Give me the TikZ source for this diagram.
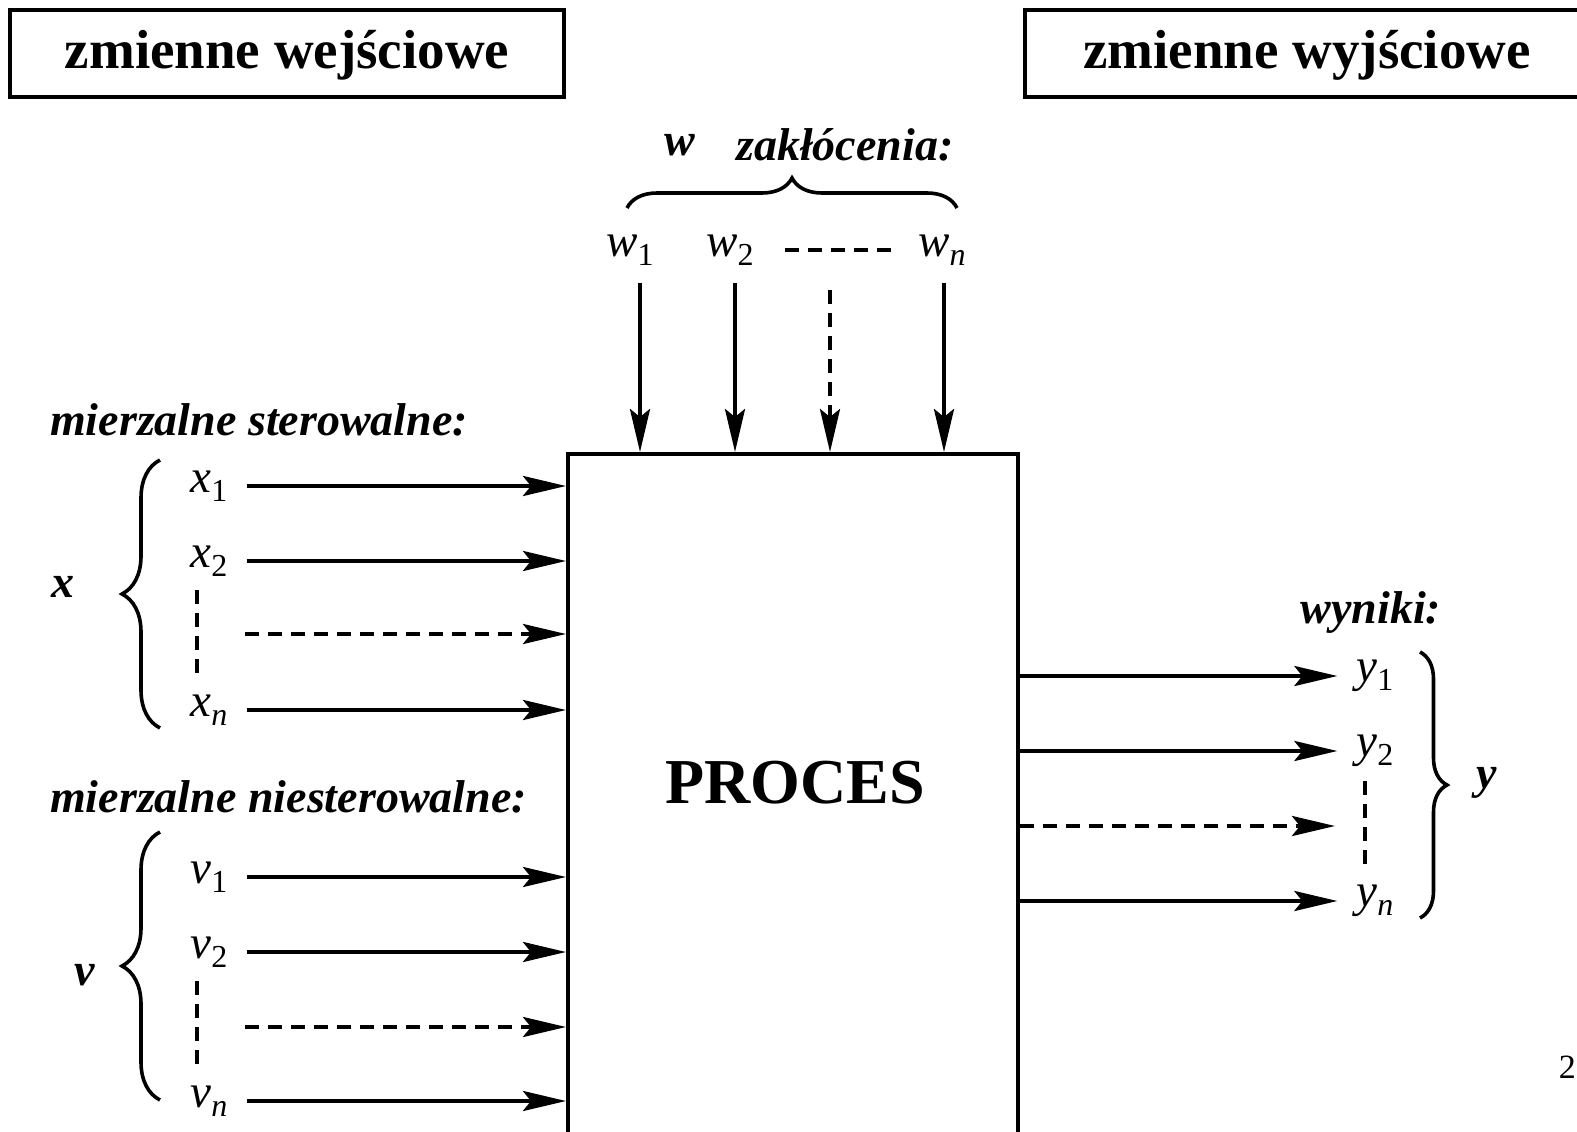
\documentclass[tikz,border=0pt]{standalone}
\usepackage{fontspec}
\setmainfont{Liberation Serif}
\usetikzlibrary{arrows.meta,decorations.pathreplacing}

\newcommand*\sig[2]{\textit{#1}\raisebox{-9pt}{\fontsize{32}{34}\selectfont #2}}

\tikzset{
    titlebox/.style={
        draw,
        line width=3.6pt,
        font=\fontsize{55}{60}\selectfont\bfseries,
        minimum height=87pt,
        text height=30pt,
        text depth=0pt,
        inner sep=0pt
    },
    grouplabel/.style={font=\fontsize{46}{50}\selectfont\bfseries\itshape, inner sep=0pt},
    sig/.style={font=\fontsize{47}{50}\selectfont, inner xsep=19pt, inner ysep=8pt},
    flow/.style={line width=4pt, -{Stealth[length=43pt,width=20pt,inset=8pt]}},
    dashflow/.style={flow, dash pattern=on 14pt off 9pt},
    dots/.style={line width=4pt, dash pattern=on 14pt off 9pt},
    groupbrace/.style={line width=3.6pt, decorate, decoration={brace, amplitude=#1}}
}

\begin{document}
\begin{tikzpicture}[x=1pt,y=-1pt]
    \useasboundingbox (0,0) rectangle (1577,1132);

    % Headers.
    \node[titlebox, minimum width=554pt] (inputs) at (287,53.5) {zmienne wejściowe};
    \node[titlebox, minimum width=564pt] (outputs) at (1307,53.5) {zmienne wyjściowe};

    % The process block (runs off the bottom of the page).
    \node[draw, line width=3.6pt, minimum width=450pt, minimum height=720pt, anchor=north west] (proc) at (566,452) {};
    \node[font=\fontsize{64}{70}\selectfont\bfseries] (proclabel) at (795,783) {PROCES};

    % Disturbances w.
    \node[grouplabel] (wlab) at (680,145) {w};
    \node[grouplabel, anchor=west] (disturb) at (736,145) {zakłócenia:};
    \draw[groupbrace=30pt] (627,208) -- (957,208);
    \node[sig] (w1) at (630,250) {\sig{w}{1}};
    \node[sig] (w2) at (730,250) {\sig{w}{2}};
    \node[sig] (wn) at (942,250) {\sig{w}{\textit{n}}};
    \coordinate (wdots) at (830,290);
    \draw[dots] ([xshift=12pt]w2.east) -- (wn.west);
    \draw[flow] ([xshift=10pt,yshift=-10pt]w1.south) -- ([xshift=10pt]w1.south |- proc.north);
    \draw[flow] ([xshift=5pt,yshift=-10pt]w2.south) -- ([xshift=5pt]w2.south |- proc.north);
    \draw[dashflow] (wdots) -- (wdots |- proc.north);
    \draw[flow] ([xshift=2pt,yshift=-10pt]wn.south) -- ([xshift=2pt]wn.south |- proc.north);

    % Measured, controlled inputs x.
    \node[grouplabel, anchor=west] (ctrl) at (50,420) {mierzalne sterowalne:};
    \node[sig] (x1) at (209,486) {\sig{x}{1}};
    \node[sig] (x2) at (209,561) {\sig{x}{2}};
    \node[sig] (xn) at (209,710) {\sig{x}{\textit{n}}};
    \coordinate (xdots) at (245,634);
    \draw[flow] (x1.east) -- (x1.east -| proc.west);
    \draw[flow] (x2.east) -- (x2.east -| proc.west);
    \draw[dashflow] (xdots) -- (xdots -| proc.west);
    \draw[flow] (xn.east) -- (xn.east -| proc.west);
    \draw[dots] ([xshift=-12pt,yshift=-6pt]x2.south) -- ([xshift=-12pt,yshift=8pt]xn.north);
    \draw[groupbrace=38pt] (160,728) -- (160,460);
    \node[grouplabel] (xlab) at (63,587) {x};

    % Measured, uncontrolled inputs v.
    \node[grouplabel, anchor=west] (unctrl) at (50,797) {mierzalne niesterowalne:};
    \node[sig] (v1) at (209,877) {\sig{v}{1}};
    \node[sig] (v2) at (209,952) {\sig{v}{2}};
    \node[sig] (vn) at (209,1101) {\sig{v}{\textit{n}}};
    \coordinate (vdots) at (245,1027);
    \draw[flow] (v1.east) -- (v1.east -| proc.west);
    \draw[flow] (v2.east) -- (v2.east -| proc.west);
    \draw[dashflow] (vdots) -- (vdots -| proc.west);
    \draw[flow] (vn.east) -- (vn.east -| proc.west);
    \draw[dots] ([xshift=-12pt,yshift=-6pt]v2.south) -- ([xshift=-12pt,yshift=8pt]vn.north);
    \draw[groupbrace=38pt] (160,1100) -- (160,832);
    \node[grouplabel] (vlab) at (85,975) {v};

    % Outputs y.
    \node[grouplabel] (results) at (1371,612) {wyniki:};
    \node[sig] (y1) at (1375,676) {\sig{y}{1}};
    \node[sig] (y2) at (1375,751) {\sig{y}{2}};
    \node[sig] (yn) at (1375,901) {\sig{y}{\textit{n}}};
    \coordinate (ydots) at (1335,826);
    \draw[flow] (y1.west -| proc.east) -- (y1.west);
    \draw[flow] (y2.west -| proc.east) -- (y2.west);
    \draw[dashflow] (ydots -| proc.east) -- (ydots);
    \draw[flow] (yn.west -| proc.east) -- (yn.west);
    \draw[dots] ([xshift=-10pt,yshift=-6pt]y2.south) -- ([xshift=-10pt,yshift=8pt]yn.north);
    \draw[groupbrace=27pt] (1420,652) -- (1420,918);
    \node[grouplabel] (ylab) at (1487,783) {y};

    % Page number at the right edge.
    \node[font=\fontsize{34}{38}\selectfont, anchor=east, inner sep=0pt] (pagenum) at (1576,1067) {2};
\end{tikzpicture}
\end{document}
